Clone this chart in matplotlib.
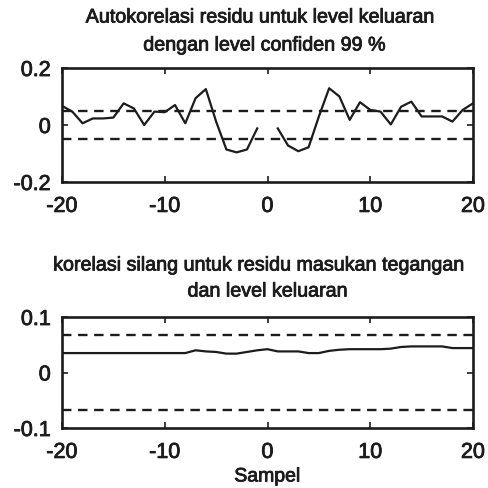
import matplotlib
matplotlib.use('Agg')
import matplotlib.pyplot as plt
import matplotlib.patheffects as pe
import numpy as np

# ---------------- data ----------------
lags = list(range(-20, 21))

# residual autocorrelation (lag 0 omitted)
acf_values = [0.067, 0.047, 0.006, 0.023, 0.023, 0.026, 0.076, 0.058, 0.000, 0.047,
              0.045, 0.070, 0.006, 0.094, 0.126, 0.012, -0.086, -0.096, -0.086, -0.012,
              np.nan,
              -0.012, -0.072, -0.092, -0.078, 0.030, 0.129, 0.100, 0.018, 0.080, 0.053,
              0.047, 0.002, 0.064, 0.082, 0.030, 0.030, 0.030, 0.012, 0.053, 0.076]
acf_conf = 0.05

# cross correlation input/residual
ccf_values = [0.035, 0.035, 0.035, 0.035, 0.035, 0.035, 0.035, 0.035, 0.035, 0.035,
              0.035, 0.035, 0.035, 0.040, 0.038, 0.037, 0.034, 0.034, 0.037, 0.040,
              0.042,
              0.038, 0.038, 0.038, 0.035, 0.035, 0.039, 0.041, 0.042, 0.042, 0.042,
              0.042, 0.043, 0.046, 0.047, 0.047, 0.047, 0.047, 0.044, 0.044, 0.044]
ccf_conf = 0.068

title1 = ["Autokorelasi residu untuk level keluaran", "dengan level confiden 99 %"]
title2 = ["korelasi silang untuk residu masukan tegangan", "dan level keluaran"]
xlabel = "Sampel"
xticks = [-20, -10, 0, 10, 20]
yticks1 = [-0.2, 0, 0.2]
yticks1_labels = ["-0.2", "0", "0.2"]
yticks2 = [-0.1, 0, 0.1]
yticks2_labels = ["-0.1", "0", "0.1"]

# ---------------- style ----------------
plt.rcParams['font.family'] = ['Liberation Sans', 'DejaVu Sans']
ink = '#1c1c1c'
heavy = [pe.withStroke(linewidth=0.6, foreground=ink)]

W = H = 488
fig = plt.figure(figsize=(4.88, 4.88), dpi=100)
fig.patch.set_facecolor('white')

def px_axes(left, top, right, bottom):
    return fig.add_axes([left / W, 1 - bottom / H, (right - left) / W, (bottom - top) / H])

ax1 = px_axes(62, 68, 473, 182)
ax2 = px_axes(62, 317, 473, 428)

def style(ax, yt, ytl, ylim):
    ax.set_xlim(-20, 20)
    ax.set_ylim(*ylim)
    ax.set_xticks(xticks)
    ax.set_xticklabels([str(t) for t in xticks])
    ax.set_yticks(yt)
    ax.set_yticklabels(ytl)
    ax.tick_params(direction='in', length=4, width=1.2, colors=ink,
                   top=True, right=True, labelsize=15.5)
    ax.tick_params(axis='y', pad=8)
    ax.tick_params(axis='x', pad=10)
    for lab in ax.get_xticklabels() + ax.get_yticklabels():
        lab.set_path_effects(heavy)
    for s in ax.spines.values():
        s.set_linewidth(1.9)
        s.set_color(ink)
    ax.set_facecolor('white')

dash = (0, (4.0, 2.8))

ax1.plot(lags, acf_values, color=ink, lw=1.6)
ax1.axhline(acf_conf, color=ink, lw=1.7, linestyle=dash)
ax1.axhline(-acf_conf, color=ink, lw=1.7, linestyle=dash)
style(ax1, yticks1, yticks1_labels, (-0.2, 0.2))

ax2.plot(lags, ccf_values, color=ink, lw=1.6)
ax2.axhline(ccf_conf, color=ink, lw=1.7, linestyle=dash)
ax2.axhline(-ccf_conf, color=ink, lw=1.7, linestyle=dash)
style(ax2, yticks2, yticks2_labels, (-0.1, 0.1))
ax2.set_xlabel(xlabel, fontsize=14, color=ink, labelpad=4, path_effects=heavy)

# titles
tkw = dict(ha='center', va='center', fontsize=14.2, color=ink, path_effects=heavy)
fig.text(261 / W, 1 - 17 / H, title1[0], **tkw)
fig.text(265 / W, 1 - 45 / H, title1[1], **tkw)
fig.text(260 / W, 1 - 265 / H, title2[0], **tkw)
fig.text(268 / W, 1 - 291 / H, title2[1], **tkw)

fig.savefig('out.png', dpi=100, facecolor='white')
